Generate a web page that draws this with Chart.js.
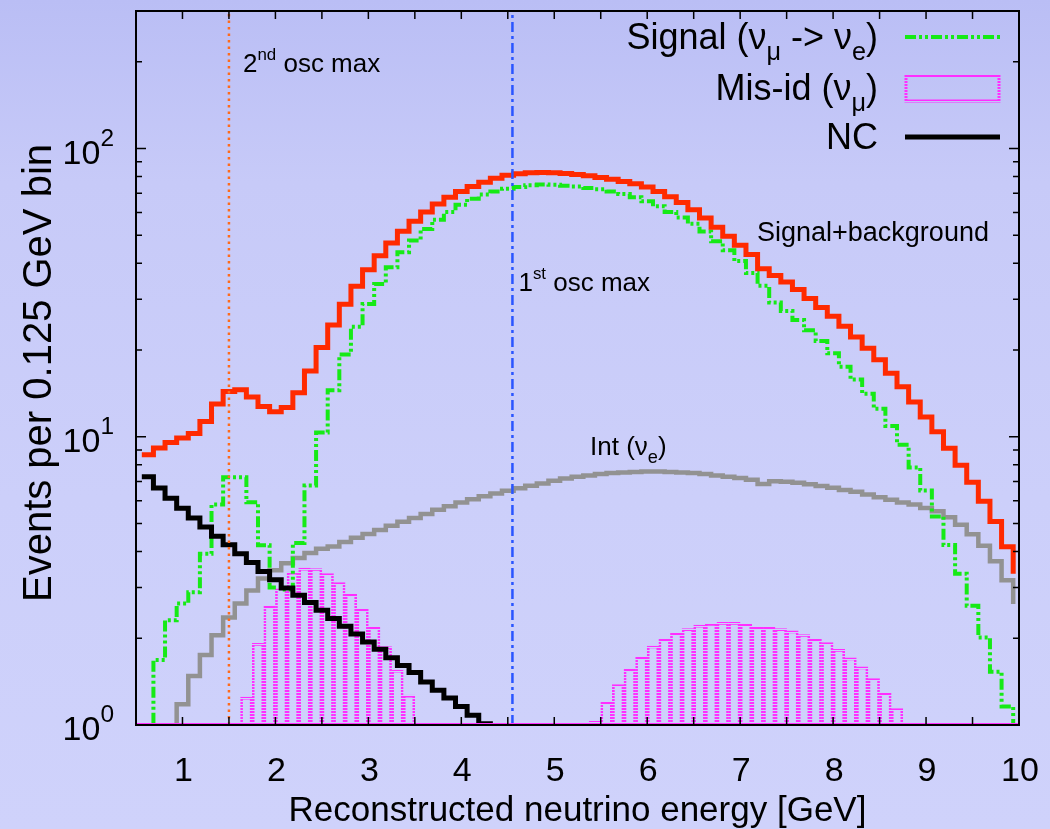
<!DOCTYPE html>
<html>
<head>
<meta charset="utf-8">
<script src="https://cdn.jsdelivr.net/npm/chart.js@4.4.0/dist/chart.umd.min.js"></script>
<style>
html, body { margin: 0; padding: 0; }
body {
  width: 1050px; height: 829px; overflow: hidden;
  background: linear-gradient(to bottom, #babef5 0%, #c7caf8 22%, #cccffa 60%, #cfd2fb 100%);
}
</style>
</head>
<body>
<canvas id="spectrum" width="1050" height="829"></canvas>
<script>
// bin centres in GeV (0.125 GeV bins)
const energy = [
  0.5625, 0.6875, 0.8125, 0.9375, 1.0625, 1.1875, 1.3125, 1.4375, 1.5625, 1.6875,
  1.8125, 1.9375, 2.0625, 2.1875, 2.3125, 2.4375, 2.5625, 2.6875, 2.8125, 2.9375,
  3.0625, 3.1875, 3.3125, 3.4375, 3.5625, 3.6875, 3.8125, 3.9375, 4.0625, 4.1875,
  4.3125, 4.4375, 4.5625, 4.6875, 4.8125, 4.9375, 5.0625, 5.1875, 5.3125, 5.4375,
  5.5625, 5.6875, 5.8125, 5.9375, 6.0625, 6.1875, 6.3125, 6.4375, 6.5625, 6.6875,
  6.8125, 6.9375, 7.0625, 7.1875, 7.3125, 7.4375, 7.5625, 7.6875, 7.8125, 7.9375,
  8.0625, 8.1875, 8.3125, 8.4375, 8.5625, 8.6875, 8.8125, 8.9375, 9.0625, 9.1875,
  9.3125, 9.4375, 9.5625, 9.6875, 9.8125, 9.9375
]

// events per bin
const sigBkg = [
  8.67, 9.14, 9.55, 9.9, 10.26, 11.3, 12.98, 14.35, 14.55, 13.75,
  12.73, 12.2, 12.63, 14.2, 16.9, 20.4, 24.4, 28.8, 33.3, 38.0,
  42.5, 47.0, 51.6, 55.9, 60.2, 64.2, 67.7, 71.0, 73.9, 76.4,
  78.9, 80.7, 81.7, 82.4, 82.6, 82.4, 81.9, 81.3, 80.4, 79.4,
  78.3, 76.9, 75.5, 73.5, 71.0, 68.0, 65.0, 61.3, 57.4, 53.3,
  49.6, 46.2, 42.9, 38.3, 36.3, 34.4, 32.4, 30.2, 28.1, 26.2,
  24.2, 22.2, 20.3, 18.5, 16.6, 14.9, 13.2, 11.7, 10.4, 9.12,
  7.97, 6.96, 5.97, 5.08, 4.15, 3.35
]
const signal = [
  0.9, 1.68, 2.31, 2.64, 2.89, 3.93, 5.82, 7.23, 7.23, 5.93,
  4.2, 3.0, 2.95, 4.28, 6.77, 10.35, 14.5, 19.3, 24.1, 28.9,
  33.9, 38.7, 43.7, 48.0, 52.6, 56.6, 60.2, 63.8, 67.0, 69.2,
  71.0, 72.5, 73.5, 74.5, 75.0, 74.8, 74.3, 73.9, 73.0, 72.3,
  71.0, 69.6, 67.7, 65.6, 63.0, 60.2, 57.6, 54.8, 51.5, 47.7,
  44.4, 40.7, 37.0, 33.4, 29.2, 27.3, 25.4, 23.4, 21.5, 19.5,
  17.5, 15.8, 14.1, 12.5, 10.9, 9.39, 7.82, 6.51, 5.29, 4.21,
  3.35, 2.59, 2.01, 1.53, 1.16, 0.9
]
const intNue = [
  0.9, 0.9, 0.9, 1.18, 1.48, 1.75, 2.05, 2.36, 2.64, 2.93,
  3.22, 3.44, 3.64, 3.80, 3.95, 4.09, 4.16, 4.31, 4.46, 4.60,
  4.75, 4.91, 5.07, 5.23, 5.40, 5.58, 5.74, 5.91, 6.07, 6.22,
  6.36, 6.50, 6.63, 6.76, 6.88, 7.04, 7.17, 7.26, 7.34, 7.42,
  7.48, 7.52, 7.54, 7.57, 7.57, 7.54, 7.52, 7.48, 7.42, 7.34,
  7.26, 7.19, 7.09, 6.86, 7.01, 6.98, 6.93, 6.84, 6.75, 6.65,
  6.53, 6.44, 6.31, 6.17, 6.05, 5.92, 5.82, 5.66, 5.51, 5.26,
  4.95, 4.59, 4.19, 3.70, 3.18, 2.63
]
const ncBkg = [
  7.27, 6.64, 6.12, 5.65, 5.23, 4.86, 4.52, 4.22, 3.93, 3.66,
  3.41, 3.19, 2.99, 2.82, 2.66, 2.50, 2.34, 2.20, 2.07, 1.94,
  1.83, 1.71, 1.61, 1.52, 1.41, 1.32, 1.24, 1.16, 1.08, 1.01,
  0.94, null, null, null, null, null, null, null, null, null,
  null, null, null, null, null, null, null, null, null, null,
  null, null, null, null, null, null, null, null, null, null,
  null, null, null, null, null, null, null, null, null, null,
  null, null, null, null, null, null
]
const misId = [
  0, 0, 0, 0, 0, 0, 0, 0, 0, 1.25,
  1.92, 2.58, 2.97, 3.39, 3.50, 3.49, 3.35, 3.12, 2.84, 2.52,
  2.19, 1.87, 1.55, 1.27, 0, 0, 0, 0, 0, 0,
  0, 0, 0, 0, 0, 0, 0, 0, 0, 1.03,
  1.20, 1.38, 1.56, 1.72, 1.88, 1.99, 2.09, 2.16, 2.22, 2.25,
  2.27, 2.27, 2.24, 2.19, 2.19, 2.16, 2.12, 2.06, 1.99, 1.93,
  1.83, 1.71, 1.59, 1.45, 1.29, 1.14, 0, 0, 0, 0,
  0, 0, 0, 0, 0, 0
]

// oscillation maxima [GeV]: 1st, 2nd
const oscMax = [4.55, 1.5]

const xTicks = [1, 2, 3, 4, 5, 6, 7, 8, 9, 10]
const yTicks = [1, 10, 100]

const FONT = '"Liberation Sans", Arial, Helvetica, sans-serif'

// dashed magenta look of the gnuplot box outlines
function dashPattern(color){
    let c = document.createElement('canvas')
    c.width = 3
    c.height = 3
    let g = c.getContext('2d')
    g.fillStyle = color
    g.fillRect(0, 0, 3, 2)
    return g.createPattern(c, 'repeat')
}
const pinkDash = dashPattern('#ff2eff')

function steps(values){
    return energy.map(function(e, i){ return {x: e, y: values[i]} })
}

// text with sub/superscripts: parts = [{t, k: 'sub'|'sup'}]
function richText(ctx, parts, x, y, size, align, supScale, supRaise){
    supScale = supScale || 0.65
    supRaise = supRaise || 0.45
    let w = 0
    let pieces = parts.map(function(p){
        let s = p.k == 'sub' ? size * 0.7 : p.k == 'sup' ? size * supScale : size
        ctx.font = s + 'px ' + FONT
        let pw = ctx.measureText(p.t).width
        w += pw
        let dy = p.k == 'sub' ? size * 0.3 : p.k == 'sup' ? -size * supRaise : 0
        return {t: p.t, s: s, w: pw, dy: dy}
    })
    let cx = align == 'right' ? x - w : align == 'center' ? x - w / 2 : x
    ctx.textAlign = 'left'
    ctx.textBaseline = 'alphabetic'
    for (let p of pieces){
        ctx.font = p.s + 'px ' + FONT
        ctx.fillText(p.t, cx, y + p.dy)
        cx += p.w
    }
}

const legendEntries = [
    {ds: 4, parts: [{t: 'Signal (ν'}, {t: 'μ', k: 'sub'}, {t: ' -> ν'}, {t: 'e', k: 'sub'}, {t: ')'}]},
    {ds: 6, parts: [{t: 'Mis-id (ν'}, {t: 'μ', k: 'sub'}, {t: ')'}]},
    {ds: 3, parts: [{t: 'NC'}]}
]

const framePlugin = {
    id: 'frame',
    afterDraw(chart){
        const ctx = chart.ctx
        const a = chart.chartArea
        const xs = chart.scales.x
        const ys = chart.scales.y
        ctx.save()

        // empty mis-id boxes sit on the bottom edge
        ctx.fillStyle = pinkDash
        ctx.fillRect(a.left, a.bottom - 3, a.right - a.left, 2)

        // frame
        ctx.strokeStyle = '#000'
        ctx.lineWidth = 2
        ctx.strokeRect(a.left, a.top, a.right - a.left, a.bottom - a.top)

        // inward ticks
        ctx.lineWidth = 1.5
        ctx.beginPath()
        for (let v = 1; v < 10; v += 0.5){
            let px = xs.getPixelForValue(v)
            ctx.moveTo(px, a.bottom); ctx.lineTo(px, a.bottom - 8)
            ctx.moveTo(px, a.top); ctx.lineTo(px, a.top + 8)
        }
        for (let dec = 1; dec <= 100; dec *= 10){
            for (let m = 1; m <= 9; m++){
                let v = dec * m
                if (v <= 1 || v >= 300) continue
                let py = ys.getPixelForValue(v)
                let len = m == 1 ? 10 : 6
                ctx.moveTo(a.left, py); ctx.lineTo(a.left + len, py)
                ctx.moveTo(a.right, py); ctx.lineTo(a.right - len, py)
            }
        }
        ctx.stroke()

        ctx.fillStyle = '#000'
        // tick labels
        ctx.font = '34px ' + FONT
        ctx.textAlign = 'center'
        ctx.textBaseline = 'alphabetic'
        for (let t of xTicks){
            ctx.fillText(String(t), xs.getPixelForValue(t) + 1, 781)
        }
        for (let t of yTicks){
            let exp = Math.round(Math.log10(t))
            richText(ctx, [{t: '10'}, {t: String(exp), k: 'sup'}], 114, ys.getPixelForValue(t) + 15, 34, 'right', 0.72, 0.52)
        }

        // axis titles
        ctx.font = '35px ' + FONT
        ctx.textAlign = 'center'
        ctx.fillText('Reconstructed neutrino energy [GeV]', (a.left + a.right) / 2, 821)
        ctx.save()
        ctx.translate(51, (a.top + a.bottom) / 2 + 5)
        ctx.rotate(-Math.PI / 2)
        ctx.font = '40px ' + FONT
        ctx.fillText('Events per 0.125 GeV bin', 0, 0)
        ctx.restore()

        // annotations
        richText(ctx, [{t: '2'}, {t: 'nd', k: 'sup'}, {t: ' osc max'}], xs.getPixelForValue(oscMax[1]) + 14, 72, 26, 'left')
        richText(ctx, [{t: '1'}, {t: 'st', k: 'sup'}, {t: ' osc max'}], xs.getPixelForValue(oscMax[0]) + 6, 291, 26, 'left')
        richText(ctx, [{t: 'Signal+background'}], 757, 241, 27, 'left')
        richText(ctx, [{t: 'Int (ν'}, {t: 'e', k: 'sub'}, {t: ')'}], 590, 455, 26, 'left')

        // legend
        let rowY = [37, 88, 137]
        legendEntries.forEach(function(en, i){
            richText(ctx, en.parts, 878, rowY[i] + 12, 36, 'right')
            let ds = chart.data.datasets[en.ds]
            if (ds.type == 'bar'){
                ctx.strokeStyle = pinkDash
                ctx.lineWidth = 3
                ctx.setLineDash([])
                ctx.strokeRect(906, rowY[i] - 12, 93, 25)
            } else {
                ctx.strokeStyle = ds.borderColor
                ctx.lineWidth = ds.borderWidth
                ctx.setLineDash(ds.borderDash || [])
                ctx.beginPath()
                ctx.moveTo(905, rowY[i]); ctx.lineTo(1000, rowY[i])
                ctx.stroke()
            }
        })
        ctx.restore()
    }
}

const lineStyle = {type: 'line', stepped: 'before', pointRadius: 0, fill: false,
    borderJoinStyle: 'miter', borderCapStyle: 'butt', spanGaps: false}

const chart = new Chart(document.getElementById('spectrum'), {
    type: 'line',
    data: {
        datasets: [
            {label: '1st osc max', type: 'line', data: [{x: oscMax[0], y: 1}, {x: oscMax[0], y: 300}],
             borderColor: '#2a55ff', borderWidth: 2.5, borderDash: [10, 4, 3, 4], pointRadius: 0},
            {label: '2nd osc max', type: 'line', data: [{x: oscMax[1], y: 1}, {x: oscMax[1], y: 300}],
             borderColor: '#ff6a1a', borderWidth: 2.5, borderDash: [2.5, 4], pointRadius: 0},
            Object.assign({label: 'Signal+background', data: steps(sigBkg), borderColor: '#ff2a00', borderWidth: 5}, lineStyle),
            Object.assign({label: 'NC', data: steps(ncBkg), borderColor: '#000000', borderWidth: 5}, lineStyle),
            Object.assign({label: 'Signal', data: steps(signal), borderColor: '#16ea16', borderWidth: 4,
                borderDash: [11, 3, 3, 3, 3, 3]}, lineStyle),
            Object.assign({label: 'Int (nu_e)', data: steps(intNue), borderColor: '#929292', borderWidth: 4.5}, lineStyle),
            {label: 'Mis-id', type: 'bar',
             data: energy.map(function(e, i){ return {x: e, y: misId[i] > 0 ? misId[i] : null} }),
             backgroundColor: 'rgba(0,0,0,0)', borderColor: pinkDash, borderWidth: 2,
             borderSkipped: 'start', barPercentage: 1, categoryPercentage: 1, grouped: false}
        ]
    },
    options: {
        responsive: false,
        animation: false,
        devicePixelRatio: 1,
        layout: {padding: {left: 136, right: 31, top: 11, bottom: 104}},
        plugins: {legend: {display: false}, tooltip: {enabled: false}},
        scales: {
            x: {type: 'linear', min: 0.5, max: 10, offset: false, display: false},
            y: {type: 'logarithmic', min: 1, max: 300, display: false}
        }
    },
    plugins: [framePlugin]
})
</script>
</body>
</html>
